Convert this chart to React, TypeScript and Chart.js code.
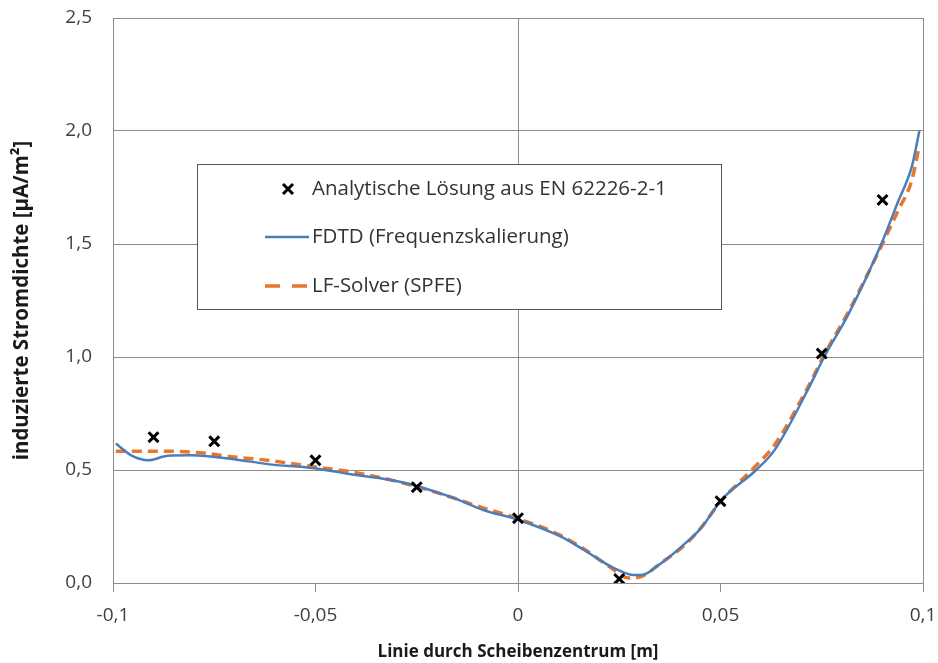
import React, { useEffect, useRef } from 'react';
import { Chart, registerables } from 'chart.js';

Chart.register(...registerables);

// Analytical solution (EN 62226-2-1)
const analyticX = [-0.09, -0.075, -0.05, -0.025, 0, 0.025, 0.05, 0.075, 0.09];
const analyticY = [0.645, 0.627, 0.543, 0.424, 0.287, 0.018, 0.362, 1.015, 1.695];

// FDTD (Frequenzskalierung)
const fdtdX = [-0.0993, -0.0955, -0.0912, -0.0865, -0.0808, -0.0702, -0.0618, -0.0504, -0.0413, -0.0289, -0.0166, -0.0084, 0.0, 0.0106, 0.0163, 0.0237, 0.0287, 0.0304, 0.0354, 0.0403, 0.0452, 0.0502, 0.0588, 0.0633, 0.0717, 0.0756, 0.0816, 0.0897, 0.0939, 0.0972, 0.0991];
const fdtdY = [0.617, 0.565, 0.543, 0.563, 0.565, 0.548, 0.526, 0.508, 0.481, 0.447, 0.381, 0.322, 0.28, 0.205, 0.146, 0.066, 0.035, 0.035, 0.088, 0.16, 0.243, 0.367, 0.5, 0.587, 0.86, 1.0, 1.19, 1.5, 1.69, 1.84, 2.0];

// LF-Solver (SPFE)
const lfX = [-0.0993, -0.09, -0.0865, -0.0784, -0.0702, -0.0618, -0.0504, -0.0413, -0.03, -0.02, -0.01, 0.0, 0.01, 0.0163, 0.022, 0.0274, 0.0304, 0.035, 0.041, 0.0452, 0.05, 0.0588, 0.0633, 0.0717, 0.0756, 0.0816, 0.0897, 0.0939, 0.0972, 0.099];
const lfY = [0.583, 0.583, 0.583, 0.576, 0.558, 0.543, 0.514, 0.492, 0.45, 0.4, 0.34, 0.285, 0.215, 0.15, 0.08, 0.022, 0.028, 0.085, 0.165, 0.245, 0.36, 0.52, 0.61, 0.87, 1.01, 1.2, 1.49, 1.65, 1.78, 1.927];

const xTickValues = [-0.1, -0.05, 0, 0.05, 0.1];
const xTickLabels = ['-0,1', '-0,05', '0', '0,05', '0,1'];
const yTickValues = [0, 0.5, 1.0, 1.5, 2.0, 2.5];
const yTickLabels = ['0,0', '0,5', '1,0', '1,5', '2,0', '2,5'];

const seriesNames = [
  'Analytische Lösung aus EN 62226-2-1',
  'FDTD (Frequenzskalierung)',
  'LF-Solver (SPFE)',
];
const xTitle = 'Linie durch Scheibenzentrum [m]';
const yTitle = 'induzierte Stromdichte [µA/m²]';

const BLUE = '#4A7EBB';
const ORANGE = '#E8762D';
const GRID = '#8C8C8C';
const FONT = '"Open Sans", Lato, sans-serif';

function toPoints(xs: number[], ys: number[]) {
  return xs.map((x, i) => ({ x, y: ys[i] }));
}

const legendPlugin = {
  id: 'boxLegend',
  beforeDatasetsDraw(chart: any) {
    const ctx = chart.ctx as CanvasRenderingContext2D;
    ctx.save();
    const bx = 197.5, by = 164.5, bw = 524, bh = 145;
    ctx.fillStyle = '#ffffff';
    ctx.fillRect(bx, by, bw, bh);
    ctx.strokeStyle = '#555555';
    ctx.lineWidth = 1;
    ctx.strokeRect(bx, by, bw, bh);

    const rows = [189, 237, 286];
    // marker
    ctx.strokeStyle = '#000';
    ctx.lineWidth = 3;
    ctx.beginPath();
    ctx.moveTo(283, rows[0] - 5);
    ctx.lineTo(293, rows[0] + 5);
    ctx.moveTo(293, rows[0] - 5);
    ctx.lineTo(283, rows[0] + 5);
    ctx.stroke();
    // blue line
    ctx.strokeStyle = BLUE;
    ctx.lineWidth = 2.5;
    ctx.beginPath();
    ctx.moveTo(265, rows[1]);
    ctx.lineTo(309, rows[1]);
    ctx.stroke();
    // orange dashes
    ctx.strokeStyle = ORANGE;
    ctx.lineWidth = 3.5;
    ctx.beginPath();
    ctx.moveTo(265, rows[2]);
    ctx.lineTo(280, rows[2]);
    ctx.moveTo(292, rows[2]);
    ctx.lineTo(307, rows[2]);
    ctx.stroke();

    ctx.fillStyle = '#333333';
    ctx.font = '20.5px ' + FONT;
    ctx.textBaseline = 'middle';
    ctx.textAlign = 'left';
    seriesNames.forEach((n, i) => ctx.fillText(n, 312, rows[i]));
    ctx.restore();
  },
};

export default function App() {
  const ref = useRef<HTMLCanvasElement | null>(null);

  useEffect(() => {
    if (!ref.current) return;
    const chart = new Chart(ref.current, {
      type: 'scatter',
      data: {
        datasets: [
          {
            label: seriesNames[0],
            data: toPoints(analyticX, analyticY),
            showLine: false,
            pointStyle: 'crossRot',
            pointRadius: 7,
            borderColor: '#000',
            backgroundColor: '#000',
            pointBorderWidth: 3,
          },
          {
            label: seriesNames[1],
            data: toPoints(fdtdX, fdtdY),
            showLine: true,
            pointRadius: 0,
            borderColor: BLUE,
            borderWidth: 2.5,
            cubicInterpolationMode: 'monotone',
          },
          {
            label: seriesNames[2],
            data: toPoints(lfX, lfY),
            showLine: true,
            pointRadius: 0,
            borderColor: ORANGE,
            borderWidth: 3.5,
            borderDash: [10, 6],
            cubicInterpolationMode: 'monotone',
          },
        ],
      } as any,
      options: {
        animation: false,
        responsive: false,
        devicePixelRatio: 1,
        layout: { padding: { left: 0, top: 18, right: 15, bottom: 0 } },
        plugins: {
          legend: { display: false },
          tooltip: { enabled: false },
        },
        scales: {
          x: {
            type: 'linear',
            min: -0.1,
            max: 0.1,
            afterFit: (s: any) => { s.height = 80; s.paddingLeft = 0; s.paddingRight = 0; },
            afterBuildTicks: (s: any) => { s.ticks = xTickValues.map((v) => ({ value: v })); },
            ticks: {
              padding: 12,
              color: '#404040',
              font: { family: FONT, size: 19 },
              callback: (v: any) => {
                const i = xTickValues.findIndex((t) => Math.abs(t - v) < 1e-9);
                return i >= 0 ? xTickLabels[i] : '';
              },
            },
            grid: {
              color: (c: any) => {
                const v = c.tick ? c.tick.value : null;
                return v === 0 || v === 0.1 ? GRID : 'rgba(0,0,0,0)';
              },
              tickColor: GRID,
              tickLength: 9,
              drawTicks: true,
            },
            border: { display: true, color: GRID, width: 1 },
            title: {
              display: true,
              text: xTitle,
              color: '#1a1a1a',
              font: { family: FONT, size: 17, weight: 'bold' },
              padding: { top: 0, bottom: 1 },
            },
          },
          y: {
            type: 'linear',
            min: 0,
            max: 2.5,
            afterFit: (s: any) => { s.width = 113; s.paddingTop = 0; s.paddingBottom = 0; },
            afterBuildTicks: (s: any) => { s.ticks = yTickValues.map((v) => ({ value: v })); },
            ticks: {
              padding: 21,
              color: '#404040',
              font: { family: FONT, size: 19 },
              callback: (v: any) => {
                const i = yTickValues.findIndex((t) => Math.abs(t - v) < 1e-9);
                return i >= 0 ? yTickLabels[i] : '';
              },
            },
            grid: {
              color: GRID,
              drawTicks: false,
            },
            border: { display: true, color: GRID, width: 1 },
            title: {
              display: true,
              text: yTitle,
              color: '#1a1a1a',
              font: { family: FONT, size: 20.5, weight: 'bold' },
              padding: { top: 10, bottom: 0 },
            },
          },
        },
      } as any,
      plugins: [legendPlugin],
    });
    return () => chart.destroy();
  }, []);

  return (
    <div style={{ position: 'absolute', left: 0, top: 0, width: 938, height: 663, background: '#fff' }}>
      <canvas ref={ref} width={938} height={663} style={{ display: 'block' }} />
    </div>
  );
}
